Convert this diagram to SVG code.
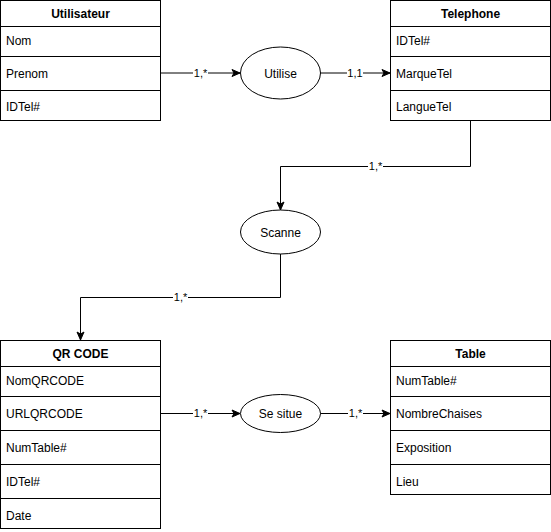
<svg xmlns="http://www.w3.org/2000/svg" width="551" height="532" viewBox="0 0 551 532">
<style>
.box{fill:#fff;stroke:#000;stroke-width:1}
.ln{stroke:#000;stroke-width:1;fill:none}
.t{font-family:"Liberation Sans",Arial,sans-serif;font-size:12px;fill:#000}
.h{font-family:"Liberation Sans",Arial,sans-serif;font-size:12px;font-weight:bold;fill:#000;text-anchor:middle}
.c{text-anchor:middle}
.lbl{font-family:"Liberation Sans",Arial,sans-serif;font-size:11px;fill:#000;text-anchor:middle}
.lb{fill:#fff}
</style>
<defs>
<marker id="arr" markerWidth="10" markerHeight="10" refX="9" refY="5" orient="auto" markerUnits="userSpaceOnUse">
<path d="M1,1.5 L9,5 L1,8.5 L3,5 Z" fill="#000" stroke="#000" stroke-width="1"/>
</marker>
</defs>
<rect width="551" height="532" fill="#fff"/>
<g id="connectors">
<path class="ln" d="M160.5,73 L240,73" marker-end="url(#arr)"/>
<path class="ln" d="M320,73 L390,73" marker-end="url(#arr)"/>
<path class="ln" d="M470.5,120.5 L470.5,166.5 L280.5,166.5 L280.5,210" marker-end="url(#arr)"/>
<path class="ln" d="M280.5,254 L280.5,297.5 L80.5,297.5 L80.5,340" marker-end="url(#arr)"/>
<path class="ln" d="M160.5,413.5 L240,413.5" marker-end="url(#arr)"/>
<path class="ln" d="M320,413.5 L390,413.5" marker-end="url(#arr)"/>
<rect class="lb" x="193" y="67" width="15" height="12"/>
<text class="lbl" x="200.5" y="77">1,*</text>
<rect class="lb" x="347" y="67" width="16" height="12"/>
<text class="lbl" x="355" y="77">1,1</text>
<rect class="lb" x="368" y="160" width="15" height="12"/>
<text class="lbl" x="375.5" y="170">1,*</text>
<rect class="lb" x="173" y="291" width="15" height="12"/>
<text class="lbl" x="180.5" y="301">1,*</text>
<rect class="lb" x="193" y="407" width="15" height="12"/>
<text class="lbl" x="200.5" y="417">1,*</text>
<rect class="lb" x="348" y="407" width="15" height="12"/>
<text class="lbl" x="355.5" y="417">1,*</text>
</g>
<g id="utilisateur">
<rect class="box" x="0.5" y="0.5" width="160" height="120"/>
<path class="ln" d="M0.5,26.5 H160.5 M0.5,56.5 H160.5 M0.5,90.5 H160.5"/>
<text class="h" x="80.5" y="18">Utilisateur</text>
<text class="t" x="6" y="45">Nom</text>
<text class="t" x="6" y="78">Prenom</text>
<text class="t" x="6" y="111">IDTel#</text>
</g>
<g id="telephone">
<rect class="box" x="390.5" y="0.5" width="160" height="120"/>
<path class="ln" d="M390.5,26.5 H550.5 M390.5,56.5 H550.5 M390.5,90.5 H550.5"/>
<text class="h" x="470.5" y="18">Telephone</text>
<text class="t" x="396" y="45">IDTel#</text>
<text class="t" x="396" y="78">MarqueTel</text>
<text class="t" x="396" y="111">LangueTel</text>
</g>
<g id="utilise">
<ellipse class="box" cx="280.5" cy="73" rx="40" ry="26"/>
<text class="t c" x="280.5" y="77.5">Utilise</text>
</g>
<g id="scanne">
<ellipse class="box" cx="280.5" cy="232" rx="40" ry="22"/>
<text class="t c" x="280.5" y="236.5">Scanne</text>
</g>
<g id="se-situe">
<ellipse class="box" cx="280.5" cy="413.5" rx="40" ry="19"/>
<text class="t c" x="280.5" y="418">Se situe</text>
</g>
<g id="qrcode">
<rect class="box" x="0.5" y="340.5" width="160" height="188"/>
<path class="ln" d="M0.5,366.5 H160.5 M0.5,396.5 H160.5 M0.5,430.5 H160.5 M0.5,464.5 H160.5 M0.5,498.5 H160.5"/>
<text class="h" x="80.5" y="358">QR CODE</text>
<text class="t" x="6" y="385">NomQRCODE</text>
<text class="t" x="6" y="418">URLQRCODE</text>
<text class="t" x="6" y="452">NumTable#</text>
<text class="t" x="6" y="486">IDTel#</text>
<text class="t" x="6" y="520">Date</text>
</g>
<g id="table">
<rect class="box" x="390.5" y="340.5" width="160" height="154"/>
<path class="ln" d="M390.5,366.5 H550.5 M390.5,396.5 H550.5 M390.5,430.5 H550.5 M390.5,464.5 H550.5"/>
<text class="h" x="470.5" y="358">Table</text>
<text class="t" x="396" y="385">NumTable#</text>
<text class="t" x="396" y="418">NombreChaises</text>
<text class="t" x="396" y="452">Exposition</text>
<text class="t" x="396" y="486">Lieu</text>
</g>
</svg>
